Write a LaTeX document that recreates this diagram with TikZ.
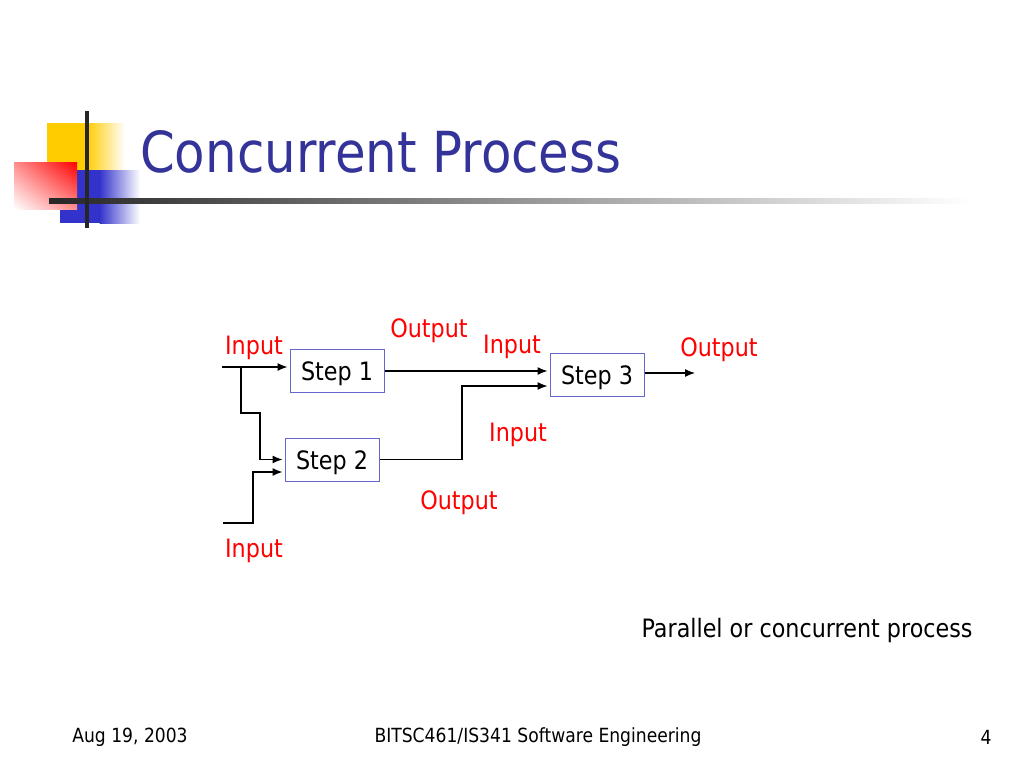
\documentclass[tikz,border=0pt]{standalone}
\usepackage{fontspec}
\usetikzlibrary{arrows.meta,shadings}
\setmainfont{DejaVu Sans}[FakeStretch=0.88]
\definecolor{titleblue}{RGB}{51,51,153}
\definecolor{boxblue}{RGB}{102,102,204}
\definecolor{decoyellow}{RGB}{255,204,0}
\definecolor{decoblue}{RGB}{51,51,204}
\begin{document}
\begin{tikzpicture}[x=1pt,y=-1pt]
\tikzset{every node/.style={inner sep=0pt},
  stepbox/.style={draw=boxblue, line width=1pt, minimum width=94pt, minimum height=43pt, text height=22pt, text depth=2pt, font=\fontsize{25.3}{30}\selectfont},
  label/.style={text=red, font=\fontsize{25.3}{30}\selectfont},
  foot/.style={font=\fontsize{19.5}{24}\selectfont},
  link/.style={line width=1.3pt, shorten >=2pt, -{Latex[length=10pt,width=8pt]}}}
\useasboundingbox (0,0) rectangle (1024,768);

\fill[decoyellow] (47,123) rectangle (87,200);
\shade[left color=decoyellow, right color=white] (86.5,123) rectangle (125,200);
\fill[decoblue] (60,170) rectangle (100,223);
\shade[left color=decoblue, right color=white] (99.5,170) rectangle (140,223);
\shade[upper left=red!45, upper right=red, lower left=white, lower right=red!45] (14,162) rectangle (77,209);
\shade[left color=black!85, right color=white] (49,198) rectangle (970,203);
\draw[line width=4pt, black!85] (87,111) -- (87,228);
\node[anchor=base west, text=titleblue, font=\fontsize{56.6}{60}\selectfont] (title) at (140,172) {Concurrent Process};

\node[stepbox] (s1) at (337,370.5) {Step 1};
\node[stepbox] (s2) at (332,459.5) {Step 2};
\node[stepbox] (s3) at (597,374.5) {Step 3};

\coordinate (in1) at (222,367);
\coordinate (br) at (241,367);
\coordinate (c1) at (260,413);
\coordinate (in2) at (223,523);
\coordinate (c2) at (253,472);
\coordinate (c3) at (462,386);
\coordinate (out) at (697,373);

\draw[link] (in1) -- (in1 -| s1.west);
\draw[link] (br) |- (c1) |- (s2.west);
\draw[link] (in2) -| (c2) -- (c2 -| s2.west);
\draw[link] (s1.east |- 0,371) -- (s3.west |- 0,371);
\draw[link] (s2.east) -| (c3) -- (c3 -| s3.west);
\draw[link] (s3.east |- out) -- (out);

\node[label] (lin1) at (254,348) {Input};
\node[label] (lout1) at (429,331) {Output};
\node[label] (lin3a) at (512,347) {Input};
\node[label] (lout3) at (719,350) {Output};
\node[label] (lin3b) at (518,435) {Input};
\node[label] (lout2) at (459,503) {Output};
\node[label] (lin2) at (254,551) {Input};

\node[font=\fontsize{25.3}{30}\selectfont] (note) at (807,630.5) {Parallel or concurrent process};
\node[foot] (date) at (130,737) {Aug 19, 2003};
\node[foot] (course) at (538,737) {BITSC461/IS341 Software Engineering};
\node[foot] (page) at (986,737) {4};
\end{tikzpicture}
\end{document}
